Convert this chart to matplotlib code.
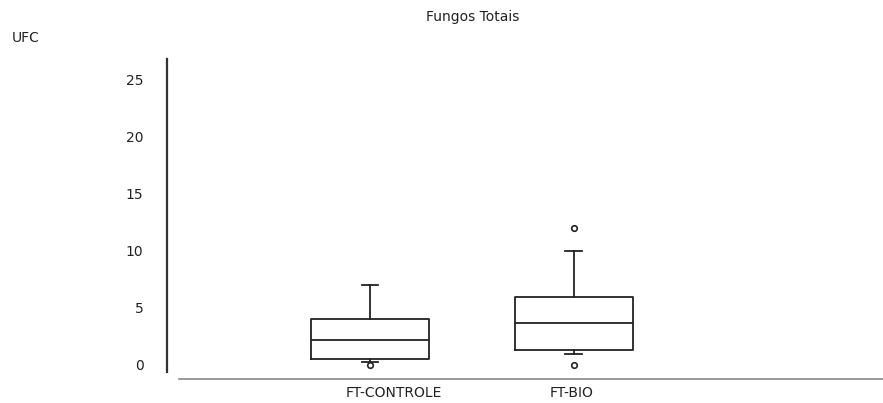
import matplotlib
matplotlib.use("Agg")
from matplotlib import pyplot as plt
from matplotlib.transforms import ScaledTranslation

# data (UFC counts)
groups = ["FT-CONTROLE", "FT-BIO"]
q1 = [0.5, 1.3]
med = [2.2, 3.7]
q3 = [4.0, 6.0]
whislo = [0.3, 1.0]
whishi = [7.0, 10.0]
fliers = [[0.0], [0.0, 12.0]]
yticks = [0, 5, 10, 15, 20, 25]
positions = [1, 2]

stats = []
for i, name in enumerate(groups):
    stats.append(dict(label=name, q1=q1[i], med=med[i], q3=q3[i],
                      whislo=whislo[i], whishi=whishi[i], fliers=fliers[i]))

plt.rcParams["font.family"] = ["DejaVu Sans"]
fig = plt.figure(figsize=(8.83, 4.03), dpi=100)
ax = fig.add_axes([167 / 883, 1 - 379 / 403, 1 - 167 / 883, 320 / 403])

line_kw = dict(color="#222222", linewidth=1.3)
ax.bxp(stats, positions=positions, widths=0.578, capwidths=0.083,
       boxprops=line_kw, whiskerprops=line_kw, capprops=line_kw,
       medianprops=line_kw,
       flierprops=dict(marker="o", markersize=4, markerfacecolor="white",
                       markeredgecolor="#222222", markeredgewidth=1.2))

ax.set_xlim(0.005, 3.515)
ax.set_ylim(-1.23, 26.84)
ax.set_yticks(yticks)
ax.set_xticks([])

# category labels sit a bit left of the box centre, left aligned
off = ScaledTranslation(-24 / 100, -14 / 100, fig.dpi_scale_trans)
for p, name in zip(positions, groups):
    ax.text(p, 0, name, transform=ax.get_xaxis_transform() + off,
            ha="left", va="center", fontsize=10, color="#222222")

ax.tick_params(axis="both", length=0, labelsize=10, colors="#222222")
ax.tick_params(axis="y", pad=17)

ax.spines["top"].set_visible(False)
ax.spines["right"].set_visible(False)
ax.spines["left"].set_color("#333333")
ax.spines["left"].set_linewidth(1.6)
ax.spines["left"].set_bounds(-0.6, 26.84)
ax.spines["bottom"].set_color("#888888")
ax.spines["bottom"].set_linewidth(1.2)
ax.spines["bottom"].set_bounds(0.064, 3.515)

fig.text(473 / 883, 1 - 17 / 403, "Fungos Totais", ha="center", va="center",
         fontsize=10, color="#222222")
fig.text(12 / 883, 1 - 38 / 403, "UFC", ha="left", va="center",
         fontsize=10, color="#222222")

fig.savefig("out.png", dpi=100)
